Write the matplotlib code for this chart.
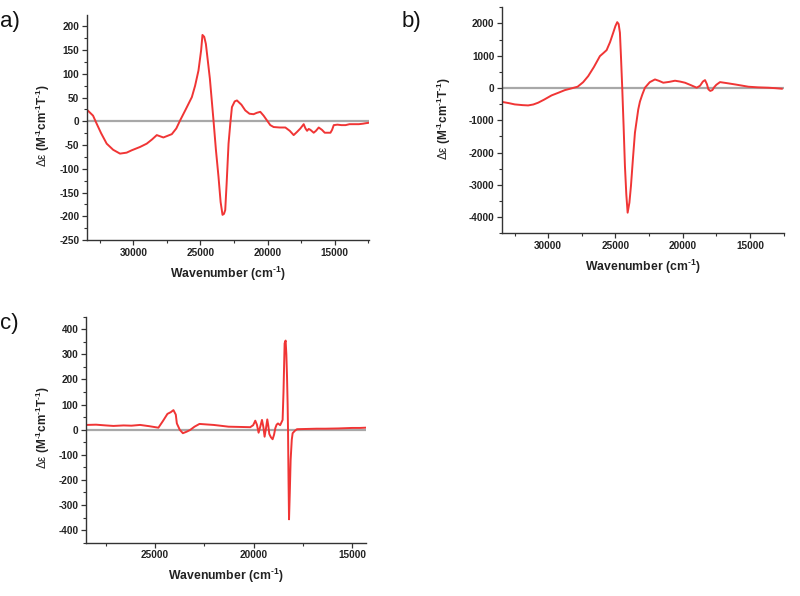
import matplotlib
matplotlib.use("Agg")
import matplotlib.pyplot as plt
from matplotlib.ticker import MultipleLocator

plt.rcParams['font.family'] = ['Liberation Sans', 'DejaVu Sans']
plt.rcParams['mathtext.fontset'] = 'custom'
plt.rcParams['mathtext.rm'] = 'Liberation Sans:bold'
plt.rcParams['mathtext.it'] = 'Liberation Sans:bold'
plt.rcParams['mathtext.bf'] = 'Liberation Sans:bold'
plt.rcParams['mathtext.default'] = 'rm'
plt.rcParams['axes.unicode_minus'] = False

# ---- data (wavenumber cm^-1, delta epsilon) ----
wn_a = [33400, 33000, 32730, 32400, 31985, 31500, 30993, 30500, 30120, 29500, 29000,
        28600, 28254, 27761, 27134, 26800, 26515, 26100, 25642, 25400, 25149, 24950,
        24851, 24720, 24597, 24300, 24030, 23850, 23657, 23500, 23358, 23250, 23157,
        23050, 22910, 22780, 22657, 22450, 22284, 21950, 21664, 21350, 21044, 20800,
        20545, 20300, 20050, 19800, 19552, 19100, 18679, 18350, 18060, 17800, 17560,
        17313, 17180, 17060, 16940, 16811, 16567, 16400, 16194, 15950, 15746, 15321,
        15200, 15075, 14800, 14500, 14200, 13900, 13600, 13207, 12900, 12700, 12460]
de_a = [23, 12, -5, -25, -47, -60, -68, -66, -61, -54, -47,
        -38, -29, -34, -27, -15, 2, 25, 51, 75, 107, 150,
        182, 178, 163, 90, 2, -60, -117, -170, -197, -195, -187,
        -130, -47, -5, 30, 42, 44, 35, 23, 16, 15, 18,
        20, 12, 2, -8, -12, -13, -13, -20, -29, -22, -15,
        -6, -15, -20, -16, -18, -24, -20, -13, -18, -24, -24,
        -18, -8, -7, -8, -8, -6, -6, -6, -5, -4, -3]

wn_b = [33348, 32900, 32478, 31900, 31488, 31100, 30744, 30300, 29747, 29200, 28757,
        28300, 27812, 27400, 27024, 26600, 26153, 25900, 25655, 25400, 25164, 25000,
        24866, 24760, 24665, 24580, 24494, 24390, 24293, 24190, 24092, 23960, 23846,
        23700, 23549, 23303, 23177, 23000, 22805, 22450, 22061, 21750, 21443, 21000,
        20571, 20200, 19828, 19400, 18958, 18710, 18500, 18340, 18200, 18090, 17950,
        17796, 17650, 17500, 17225, 16700, 16109, 15600, 15117, 14400, 13629, 13100,
        12632]
de_b = [-436, -470, -508, -530, -539, -510, -455, -360, -229, -140, -65,
        -15, 40, 180, 368, 650, 988, 1080, 1173, 1420, 1712, 1920,
        2040, 1980, 1712, 900, 9, -1200, -2418, -3300, -3861, -3550, -3037,
        -2200, -1384, -663, -420, -200, 9, 180, 266, 220, 164, 190,
        226, 200, 164, 90, 9, 70, 200, 245, 120, -40, -90,
        -65, 30, 100, 183, 150, 111, 75, 40, 20, 9, -5,
        -22]

wn_c = [28474, 28000, 27500, 27121, 26600, 26200, 25763, 25300, 24832, 24600, 24374,
        24200, 24069, 23950, 23896, 23750, 23591, 23400, 23220, 23000, 22746, 22400,
        22034, 21700, 21271, 20700, 20168, 20020, 19913, 19830, 19745, 19650, 19573,
        19500, 19440, 19370, 19303, 19250, 19201, 19120, 19033, 18960, 18896, 18830,
        18759, 18650, 18525, 18480, 18423, 18372, 18335, 18301, 18270, 18250, 18225,
        18199, 18160, 18118, 18060, 18016, 17900, 17793, 17300, 16800, 16352, 15700,
        14994, 14600, 14318]
de_c = [19, 20, 17, 15, 17, 16, 19, 14, 8, 35, 63,
        70, 78, 60, 25, 0, -14, -8, -1, 12, 23, 21,
        19, 16, 12, 11, 10, 18, 36, 20, -12, 15, 39,
        10, -28, 5, 41, 15, -17, -30, -38, -20, 6, 20,
        25, 18, 39, 150, 344, 355, 300, 211, 100, -1, -200,
        -357, -250, -121, -40, -14, -4, 2, 3, 4, 4, 5,
        7, 7, 8]

panels = [
    dict(wn=wn_a, de=de_a, rect=[87/800, 1-240/596, 282/800, 225/596],
         xlim=(33450, 12450), ylim=(-250, 224), ymaj=50, ymin=25,
         xmaj=5000, xmin=2500, label='a)', lpos=(0.0, 1-22/596), ylx=-0.124),
    dict(wn=wn_b, de=de_b, rect=[502/800, 1-233.3/596, 282/800, 226/596],
         xlim=(33430, 12470), ylim=(-4500, 2500), ymaj=1000, ymin=500,
         xmaj=5000, xmin=2500, label='b)', lpos=(402/800, 1-21/596), ylx=-0.174),
    dict(wn=wn_c, de=de_c, rect=[86/800, 1-542.7/596, 280/800, 226/596],
         xlim=(28510, 14290), ylim=(-450, 450), ymaj=100, ymin=50,
         xmaj=5000, xmin=2500, label='c)', lpos=(0.0, 1-323/596), ylx=-0.1225),
]

fig = plt.figure(figsize=(8.0, 5.96), dpi=100)
fig.patch.set_facecolor('white')

for p in panels:
    ax = fig.add_axes(p['rect'])
    ax.axhline(0, color='#a8a8a8', lw=1.6, zorder=1)
    ax.plot(p['wn'], p['de'], color='#f03535', lw=1.4, zorder=2)
    ax.set_xlim(*p['xlim'])
    ax.set_ylim(*p['ylim'])
    ax.xaxis.set_major_locator(MultipleLocator(p['xmaj']))
    ax.xaxis.set_minor_locator(MultipleLocator(p['xmin']))
    ax.yaxis.set_major_locator(MultipleLocator(p['ymaj']))
    ax.yaxis.set_minor_locator(MultipleLocator(p['ymin']))
    for s in ['top', 'right']:
        ax.spines[s].set_visible(False)
    for s in ['left', 'bottom']:
        ax.spines[s].set_color('#333333')
        ax.spines[s].set_linewidth(1.0)
    ax.tick_params(which='major', direction='out', length=3.5, width=0.9,
                   color='#333333', labelsize=7.2, pad=2)
    ax.tick_params(which='minor', direction='out', length=2, width=0.8,
                   color='#333333')
    for lab in ax.get_xticklabels() + ax.get_yticklabels():
        lab.set_fontweight('bold')
        lab.set_color('#222222')
    ax.set_xlabel(r'Wavenumber (cm$^{\text{-1}}$)', fontsize=8.8,
                  fontweight='bold', color='#222222', labelpad=5)
    ax.set_ylabel('\u0394\u03b5 ' + r'$(M^{\text{-1}}cm^{\text{-1}}T^{\text{-1}})$',
                  fontsize=8.5, color='#222222', fontweight='normal')
    ax.yaxis.set_label_coords(p['ylx'], 0.51)
    fig.text(p['lpos'][0], p['lpos'][1], p['label'], fontsize=16,
             ha='left', va='center', color='#111111')

fig.savefig('out.png', dpi=100, facecolor='white')
